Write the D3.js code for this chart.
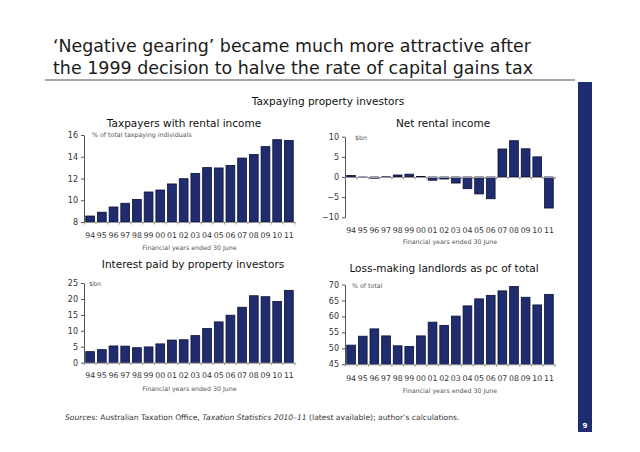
<!DOCTYPE html>
<html><head><meta charset="utf-8">
<script src="https://cdn.jsdelivr.net/npm/d3@7/dist/d3.min.js"></script>
<style>body{margin:0;background:#fff}svg{display:block}</style>
</head><body>
<svg id="c" width="640" height="452"></svg>
<script>
const years = ["94","95","96","97","98","99","00","01","02","03","04","05","06","07","08","09","10","11"];
const taxpayersPct = [8.55,8.9,9.38,9.72,10.08,10.76,10.94,11.5,11.98,12.47,13.0,12.97,13.2,13.88,14.2,14.93,15.57,15.5];
const netRental = [0.4,-0.1,-0.3,0.05,0.5,0.7,0.15,-0.8,-0.5,-1.5,-2.9,-4.2,-5.4,6.95,9.0,7.0,5.0,-7.7];
const interestPaid = [3.46,4.1,5.25,5.2,4.7,4.95,5.9,7.1,7.2,8.5,10.7,12.8,14.9,17.4,21.0,20.7,19.2,22.7];
const lossMakingPct = [51.0,53.8,56.1,53.9,50.8,50.6,53.9,58.2,57.2,60.1,63.3,65.5,66.6,68.0,69.4,66.0,63.6,66.9];
const ticks1 = [8,10,12,14,16];
const ticks2 = [-10,-5,0,5,10];
const ticks3 = [0,5,10,15,20,25];
const ticks4 = [45,50,55,60,65,70];

const svg = d3.select("#c");
const FONT = "'DejaVu Sans', Verdana, sans-serif";
const NAVY = "#1f2c6f";

// Title
svg.append("text").attr("font-family",FONT).attr("font-size",17).attr("fill","#1a1a1a")
  .attr("x",53).attr("y",52).attr("textLength",478).attr("lengthAdjust","spacingAndGlyphs")
  .text("\u2018Negative gearing\u2019 became much more attractive after");
svg.append("text").attr("font-family",FONT).attr("font-size",17).attr("fill","#1a1a1a")
  .attr("x",53).attr("y",74).attr("textLength",480).attr("lengthAdjust","spacingAndGlyphs")
  .text("the 1999 decision to halve the rate of capital gains tax");
svg.append("line").attr("x1",45).attr("x2",575).attr("y1",80).attr("y2",80).attr("stroke","#8a8a8a").attr("stroke-width",1.5);

// side bar
svg.append("rect").attr("x",578).attr("y",82).attr("width",14).attr("height",350).attr("fill",NAVY);
svg.append("text").attr("x",585).attr("y",428).attr("text-anchor","middle").attr("font-family",FONT).attr("font-size",7).attr("font-weight","bold").attr("fill","#fff").text("9");

svg.append("text").attr("x",328).attr("y",105).attr("text-anchor","middle").attr("font-family",FONT).attr("font-size",10.5).attr("fill","#111").text("Taxpaying property investors");

const panels = [
  {title:"Taxpayers with rental income", tx:184, ty:126.5, unit:"% of total taxpaying individuals", ux:92, uy:137,
   values:taxpayersPct, ticks:ticks1, domain:[8,16], x0:84, x1:295, yb:222, yt:135, lab:238, sub:250, base:8},
  {title:"Net rental income", tx:443, ty:126.5, unit:"$bn", ux:355, uy:140,
   values:netRental, ticks:ticks2, domain:[-10,10], x0:345, x1:555, yb:217.3, yt:136.7, lab:233, sub:244, base:0},
  {title:"Interest paid by property investors", tx:193, ty:268, unit:"$bn", ux:89, uy:286,
   values:interestPaid, ticks:ticks3, domain:[0,25], x0:84, x1:295, yb:362.7, yt:283, lab:378, sub:391, base:0},
  {title:"Loss-making landlords as pc of total", tx:444, ty:271.5, unit:"% of total", ux:352, uy:288,
   values:lossMakingPct, ticks:ticks4, domain:[45,70], x0:345, x1:555, yb:364.3, yt:284.5, lab:381, sub:393, base:45}
];

panels.forEach(p => {
  const g = svg.append("g");
  const x = d3.scaleBand().domain(years).range([p.x0,p.x1]).paddingInner(0.25).paddingOuter(0.15);
  const y = d3.scaleLinear().domain(p.domain).range([p.yb,p.yt]);
  g.append("text").attr("x",p.tx).attr("y",p.ty).attr("text-anchor","middle").attr("font-family",FONT).attr("font-size",10.5).attr("fill","#111").text(p.title);
  g.selectAll("rect.bar").data(p.values).join("rect").attr("class","bar")
    .attr("x",(d,i)=>x(years[i])).attr("width",x.bandwidth())
    .attr("y",d=>y(Math.max(d,p.base))).attr("height",d=>Math.abs(y(d)-y(p.base)))
    .attr("fill",NAVY).attr("stroke","#0b1035").attr("stroke-width",0.8);
  const ya = g.append("g").attr("transform",`translate(${p.x0},0)`)
    .call(d3.axisLeft(y).tickValues(p.ticks).tickSize(3).tickSizeOuter(0).tickFormat(d3.format("d")));
  ya.select(".domain").attr("stroke","#555");
  ya.selectAll(".tick line").attr("stroke","#555");
  ya.selectAll("text").attr("font-family",FONT).attr("font-size",8).attr("fill","#333").attr("x",-6);
  const xy = y(p.base);
  const xa = g.append("g").attr("transform",`translate(0,${xy})`)
    .call(d3.axisBottom(x).tickSize(0).tickFormat(""));
  xa.select(".domain").attr("stroke","#999");
  xa.selectAll(".tick").remove();
  const bounds = years.map(d => x(d) - x.step()*x.paddingInner()/2).concat([p.x1]);
  g.selectAll("line.xt").data(bounds).join("line").attr("class","xt")
    .attr("x1",d=>d).attr("x2",d=>d).attr("y1",xy).attr("y2",xy+2.5).attr("stroke","#888").attr("stroke-width",0.8);
  g.selectAll("text.xl").data(years).join("text").attr("class","xl")
    .attr("x",d=>x(d)+x.bandwidth()/2).attr("y",p.lab).attr("text-anchor","middle")
    .attr("font-family",FONT).attr("font-size",7.8).attr("fill","#333").text(d=>d);
  g.append("text").attr("x",(p.x0+p.x1)/2).attr("y",p.sub).attr("text-anchor","middle")
    .attr("font-family",FONT).attr("font-size",6.3).attr("fill","#555").text("Financial years ended 30 June");
  g.append("text").attr("x",p.ux).attr("y",p.uy).attr("font-family",FONT).attr("font-size",6.3).attr("fill","#555").text(p.unit);
});

const src = svg.append("text").attr("x",65).attr("y",420).attr("font-family",FONT).attr("font-size",7.6).attr("fill","#333");
src.append("tspan").attr("font-style","italic").text("Sources: ");
src.append("tspan").text("Australian Taxation Office, ");
src.append("tspan").attr("font-style","italic").text("Taxation Statistics 2010\u201311");
src.append("tspan").text(" (latest available); author\u2019s calculations.");
</script>
</body></html>
